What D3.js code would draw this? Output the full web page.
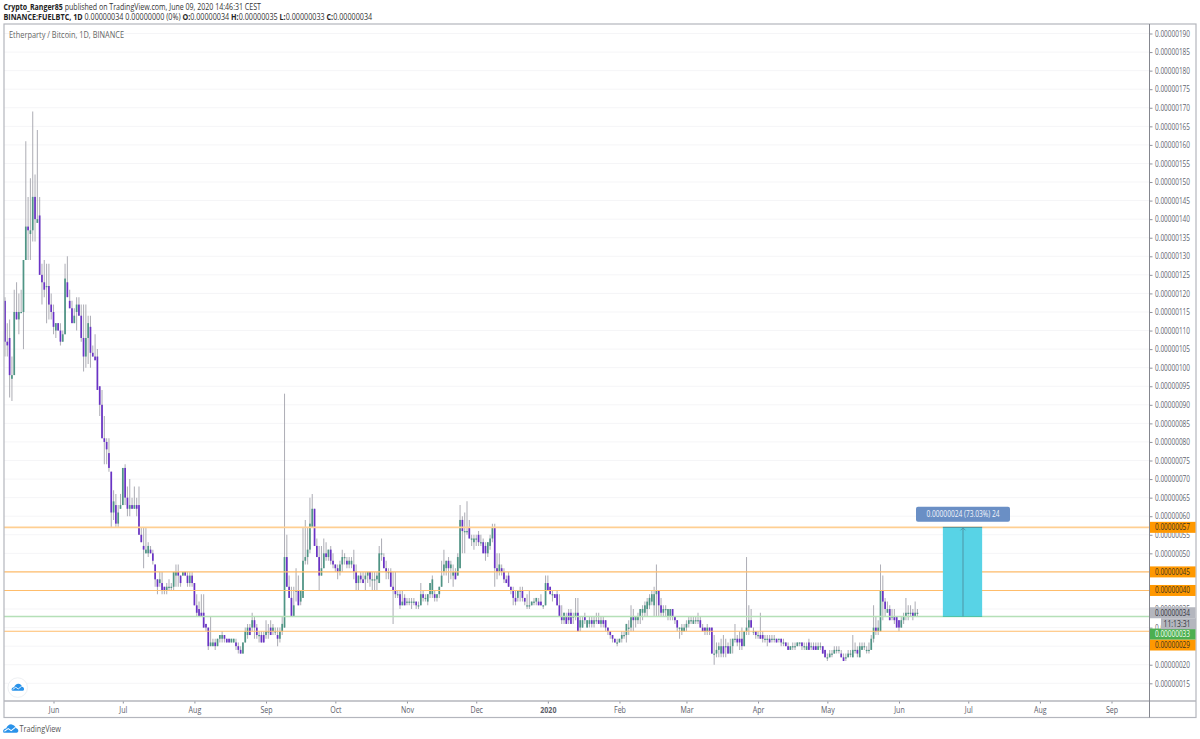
<!DOCTYPE html>
<html>
<head>
<meta charset="utf-8">
<title>Etherparty / Bitcoin, 1D, BINANCE</title>
<script src="https://cdn.jsdelivr.net/npm/d3@7/dist/d3.min.js"></script>
<style>
  html, body { margin: 0; padding: 0; background: #fff; }
  svg { display: block; }
  text { font-family: "Open Sans", "Noto Sans", sans-serif; }
</style>
</head>
<body>
<svg id="chart" width="1200" height="739"></svg>
<script>
// Daily FUELBTC candles in satoshi, one entry per day starting 2019-05-11.
const opens = [
118,107,108,97,98,115,113,115,115,129,
138,136,137,146,139,141,125,123,122,122,
117,115,110,112,110,107,109,123,118,116,
112,115,117,114,108,103,108,111,104,103,
103,95,90,81,80,77,72,61,63,58,
62,63,73,65,62,63,62,63,63,55,
52,50,50,51,50,47,43,42,42,41,
40,41,41,41,44,45,44,44,45,44,
42,44,42,36,35,34,34,31,30,25,
25,26,25,27,27,28,27,27,26,26,
26,25,24,23,26,28,30,30,32,30,
28,28,28,28,29,30,29,29,28,27,
29,30,49,41,38,33,40,40,37,38,
48,49,51,57,62,52,49,44,46,50,
49,51,48,47,46,45,47,49,48,47,
47,47,45,42,44,43,43,44,45,43,
43,43,42,50,49,46,45,45,41,40,
39,39,36,38,37,37,37,37,37,36,
36,39,38,37,39,39,39,38,39,41,
45,46,48,46,44,45,44,46,59,56,
56,57,54,53,54,55,53,53,52,50,
52,54,57,46,45,46,45,43,44,41,
40,38,38,40,40,38,36,36,36,37,
37,37,37,36,36,42,41,39,39,39,
36,33,32,33,34,34,33,33,34,30,
30,33,30,31,32,31,32,32,31,32,
32,30,29,28,27,26,26,27,28,28,
30,30,33,32,32,33,34,34,35,36,
37,36,39,40,36,34,35,33,33,35,
33,32,30,29,29,30,31,32,31,32,
32,32,30,30,29,30,30,23,23,24,
23,25,25,25,23,25,27,27,27,27,
25,29,30,32,29,29,28,28,28,27,
27,27,27,27,27,27,27,26,26,25,
24,25,25,25,26,26,25,24,26,25,
25,25,24,25,25,24,22,22,23,23,
24,24,23,22,22,22,23,22,24,24,
22,24,25,24,24,24,27,30,29,29,
40,37,34,35,33,33,33,32,30,32,
33,34,34,34,33,34];
const highs = [
119,112,113,103,121,123,120,121,129,161,
146,151,169,152,164,146,128,129,128,128,
120,117,112,112,112,110,128,130,121,118,
116,119,119,117,117,117,114,114,106,109,
105,95,94,87,81,81,72,67,66,63,
66,73,74,68,70,65,68,65,68,57,
57,57,53,52,51,47,43,45,45,41,
42,43,42,45,47,47,44,45,45,45,
45,45,42,39,37,39,39,31,30,33,
27,27,27,28,29,28,27,27,27,27,
27,26,25,26,30,31,31,34,33,31,
29,29,29,32,31,32,31,30,30,30,
33,93,55,44,41,41,46,44,40,57,
59,57,65,66,62,54,52,52,54,53,
51,52,50,47,47,48,51,50,49,49,
49,51,47,44,45,45,45,45,45,45,
45,45,52,54,50,48,46,46,45,45,
40,40,40,39,38,38,38,38,37,37,
42,40,39,39,42,44,40,39,41,48,
51,48,49,48,47,46,50,63,60,61,
64,59,55,55,55,56,55,54,53,53,
55,58,58,50,50,47,46,44,45,41,
41,40,40,41,41,38,39,40,37,38,
38,38,39,36,44,44,41,40,39,40,
39,36,34,34,35,35,34,38,38,33,
33,34,32,33,33,33,34,34,33,33,
32,30,29,28,27,27,27,29,29,31,
32,36,35,33,34,35,36,37,38,39,
40,41,47,40,38,36,36,35,35,35,
33,32,30,31,31,32,33,33,33,33,
34,33,31,30,31,30,30,28,26,26,
27,28,27,26,27,27,31,28,29,30,
29,49,36,35,30,29,29,34,29,28,
28,28,28,28,27,27,27,27,26,26,
25,26,26,26,26,26,26,26,27,26,
26,26,26,26,25,24,23,24,24,25,
25,25,24,23,23,24,24,28,26,25,
26,26,26,25,26,28,36,33,32,47,
44,38,37,36,35,35,33,32,33,34,
38,36,36,35,37,35];
const lows = [
103,103,92,91,98,113,109,115,105,129,
129,129,134,134,139,125,117,119,112,113,
113,109,108,110,106,107,109,119,116,112,
112,110,114,107,99,100,101,100,103,102,
94,87,81,74,74,72,57,59,57,57,
62,63,63,60,60,62,62,60,55,53,
46,50,49,50,47,41,39,41,39,39,
39,40,40,40,41,41,41,44,44,41,
41,41,36,33,33,33,30,29,24,25,
25,24,25,26,26,26,26,26,26,26,
24,23,23,23,26,27,28,29,27,27,
26,26,26,27,27,28,28,28,25,26,
28,30,41,38,33,33,37,36,36,38,
47,47,50,57,52,49,40,44,46,48,
48,47,46,45,43,44,45,47,46,46,
46,43,40,40,42,42,40,42,41,40,
40,40,42,48,46,43,43,41,31,38,
38,35,36,36,36,36,35,36,35,35,
36,37,37,36,38,38,37,37,38,41,
44,44,42,43,41,43,44,46,50,50,
55,54,52,51,52,52,52,50,48,49,
51,53,41,43,44,44,42,42,41,39,
36,36,37,37,37,36,35,35,36,36,
36,36,36,35,36,40,39,37,38,36,
33,31,31,31,31,31,31,32,29,29,
30,31,30,30,30,30,31,31,30,30,
29,28,27,26,26,25,26,26,27,26,
28,29,29,30,31,31,32,33,33,35,
36,33,33,33,33,33,33,32,32,32,
31,29,27,28,29,29,30,31,31,31,
31,30,29,28,28,28,23,20,22,22,
22,22,22,23,23,23,26,25,24,24,
25,28,28,30,28,27,27,27,26,26,
25,26,26,26,26,26,25,25,25,24,
24,24,24,25,25,24,24,24,24,24,
24,24,24,24,23,22,21,22,22,23,
23,23,22,21,21,22,22,22,23,22,
22,24,24,23,23,24,26,28,28,29,
32,33,34,32,32,31,30,29,30,31,
32,32,33,32,33,33];
const closes = [
107,106,98,98,115,113,115,115,129,138,
137,137,146,140,140,125,123,121,122,117,
115,111,112,110,107,109,124,119,116,112,
114,117,114,108,103,108,112,104,103,102,
94,90,81,80,78,73,61,64,58,61,
63,73,65,62,63,62,63,62,55,53,
51,51,52,50,48,43,41,43,40,40,
41,41,41,45,45,44,42,45,44,42,
44,42,36,34,33,33,30,30,25,26,
26,25,27,28,28,27,26,26,27,27,
25,24,23,26,29,30,28,32,30,28,
28,26,26,29,29,28,30,29,27,29,
31,49,41,38,33,36,40,36,40,48,
49,51,58,62,52,49,44,46,50,49,
51,48,47,46,45,47,49,49,47,48,
48,45,42,44,43,42,44,45,43,43,
43,44,50,50,46,45,45,41,40,39,
39,36,37,36,37,37,37,37,36,36,
39,38,38,39,42,43,38,39,41,44,
47,48,46,47,45,43,49,59,56,56,
56,54,54,54,54,53,53,50,50,53,
54,57,46,45,47,45,43,42,41,40,
38,37,40,40,38,37,36,36,37,37,
38,36,36,36,42,40,39,39,38,36,
33,32,34,31,32,31,33,34,29,32,
32,32,32,32,31,32,32,31,32,31,
30,29,28,27,26,26,27,28,28,31,
30,33,32,33,33,35,35,36,37,38,
39,39,40,36,34,35,35,35,35,33,
32,30,30,30,30,31,32,32,32,32,
32,30,29,29,30,29,23,23,24,25,
25,23,25,23,25,27,27,26,26,25,
29,30,32,30,29,28,28,27,27,27,
27,26,27,27,26,27,26,26,25,24,
25,25,25,26,26,25,25,25,24,25,
24,24,25,25,23,22,22,23,23,24,
24,24,22,21,22,23,23,24,24,23,
25,25,25,24,24,27,30,29,30,40,
37,35,35,32,33,32,30,30,32,33,
34,34,34,33,34,34];

// Price axis ticks, horizontal levels and their side tags (satoshi).
const priceTicks = [15,20,25,30,35,40,45,50,55,60,65,70,75,80,85,90,95,100,105,110,115,120,125,130,135,140,145,150,155,160,165,170,175,180,185,190];
const orangeLevels = [45, 40, 29];
const heavyOrangeLevel = 57;
const greenLevel = 33;
const lastClose = 34;
const measureLabel = "0.00000024 (73.03%) 24";
const countdown = "11:13:31";

// Month labels on the time axis.
const timeTickDates = ["2019-06-01","2019-07-01","2019-08-01","2019-09-01","2019-10-01","2019-11-01","2019-12-01","2020-01-01","2020-02-01","2020-03-01","2020-04-01","2020-05-01","2020-06-01","2020-07-01","2020-08-01","2020-09-01"];
const timeTickLabels = ["Jun","Jul","Aug","Sep","Oct","Nov","Dec","2020","Feb","Mar","Apr","May","Jun","Jul","Aug","Sep"];

// Price range tool.
const rangeStart = "2020-06-20";
const rangeEnd = "2020-07-07";
const rangeFrom = 33;
const rangeTo = 57;

const firstDay = new Date(Date.UTC(2019, 4, 11));
const lastAxisDay = new Date(Date.UTC(2020, 8, 1));

const paneLeft = 4, paneRight = 1149.5, paneTop = 24, paneBottom = 701, frameBottom = 717.5, frameRight = 1196;

const x = d3.scaleUtc().domain([firstDay, lastAxisDay]).range([5, 1111.5]);
const y = d3.scaleLinear().domain([15, 190]).range([683.3, 33.5]);

const fmt = v => (v / 1e8).toFixed(8);
const svg = d3.select("#chart");

// Narrows every text of a selection to a share of its natural width.
function narrow(sel, share) {
  sel.each(function () {
    const len = this.getComputedTextLength();
    d3.select(this).attr("textLength", len * share).attr("lengthAdjust", "spacingAndGlyphs");
  });
  return sel;
}

// Squeezes a multi-run line horizontally so that it spans a given width.
function fitLine(textSel, left, width) {
  const len = textSel.node().getComputedTextLength();
  textSel.attr("transform", `translate(${left},0) scale(${width / len},1)`);
}

// Header lines
const header = svg.append("g").attr("font-size", 8.7).attr("fill", "#333");
const h1 = header.append("text").attr("x", 0).attr("y", 10);
h1.append("tspan").attr("font-weight", 700).attr("fill", "#222").text("Crypto_Ranger85");
h1.append("tspan").text(" published on TradingView.com, June 09, 2020 14:46:31 CEST");
const h2 = header.append("text").attr("x", 0).attr("y", 20);
h2.append("tspan").attr("font-weight", 700).attr("fill", "#222").text("BINANCE:FUELBTC, 1D");
h2.append("tspan").text("  0.00000034 0.00000000 (0%) ");
[["O:", "0.00000034"], ["H:", "0.00000035"], ["L:", "0.00000033"], ["C:", "0.00000034"]].forEach(([k, v]) => {
  h2.append("tspan").attr("font-weight", 700).attr("fill", "#222").text(k);
  h2.append("tspan").text(v + " ");
});
fitLine(h1, 3.5, 257.5);
fitLine(h2, 3.5, 368.5);

// Horizontal grid
svg.append("g").selectAll("line").data(priceTicks).join("line")
  .attr("x1", paneLeft).attr("x2", paneRight)
  .attr("y1", d => y(d)).attr("y2", d => y(d))
  .attr("stroke", "#f5f5f7").attr("stroke-width", 1);

svg.append("text").attr("x", 9).attr("y", 38).attr("font-size", 8.8).attr("fill", "#666")
  .attr("textLength", 115).attr("lengthAdjust", "spacingAndGlyphs")
  .text("Etherparty / Bitcoin, 1D, BINANCE");

// Candles
const days = d3.range(opens.length).map(i => d3.utcDay.offset(firstDay, i));
const candles = svg.append("g");
candles.selectAll("line").data(days).join("line")
  .attr("x1", d => x(d)).attr("x2", d => x(d))
  .attr("y1", (d, i) => y(highs[i])).attr("y2", (d, i) => y(lows[i]))
  .attr("stroke", "#a3a3ac").attr("stroke-width", 1.05).attr("opacity", 0.85);
candles.selectAll("rect").data(days).join("rect")
  .attr("x", d => x(d) - 0.85).attr("width", 1.7)
  .attr("y", (d, i) => y(Math.max(opens[i], closes[i])))
  .attr("height", (d, i) => Math.max(1.2, Math.abs(y(opens[i]) - y(closes[i]))))
  .attr("fill", (d, i) => closes[i] >= opens[i] ? "#4f9585" : "#6a33c6");

// Horizontal levels
svg.append("g").selectAll("line").data(orangeLevels).join("line")
  .attr("x1", paneLeft).attr("x2", paneRight)
  .attr("y1", d => y(d)).attr("y2", d => y(d))
  .attr("stroke", "#ffbd6b").attr("stroke-width", 1.1);
svg.append("line").attr("x1", paneLeft).attr("x2", paneRight)
  .attr("y1", y(heavyOrangeLevel)).attr("y2", y(heavyOrangeLevel))
  .attr("stroke", "#ffcf92").attr("stroke-width", 1.8);
svg.append("line").attr("x1", paneLeft).attr("x2", paneRight)
  .attr("y1", y(greenLevel)).attr("y2", y(greenLevel))
  .attr("stroke", "#b5e0b7").attr("stroke-width", 1.6);

// Price range tool
const rx0 = x(new Date(rangeStart)), rx1 = x(new Date(rangeEnd)), rmid = (rx0 + rx1) / 2 + 0.5;
svg.append("rect").attr("x", rx0).attr("y", y(rangeTo))
  .attr("width", rx1 - rx0).attr("height", y(rangeFrom) - y(rangeTo)).attr("fill", "#58d3e6");
svg.append("line").attr("x1", rx0).attr("x2", rx1).attr("y1", y(rangeTo)).attr("y2", y(rangeTo))
  .attr("stroke", "#4a8f9e").attr("stroke-width", 1);
svg.append("line").attr("x1", rx0).attr("x2", rx1).attr("y1", y(rangeFrom)).attr("y2", y(rangeFrom))
  .attr("stroke", "#4fc3a8").attr("stroke-width", 1);
svg.append("line").attr("x1", rmid).attr("x2", rmid).attr("y1", y(rangeFrom)).attr("y2", y(rangeTo))
  .attr("stroke", "#4d95a5").attr("stroke-width", 1);
svg.append("path")
  .attr("d", `M${rmid - 2.5},${y(rangeTo) + 3}L${rmid},${y(rangeTo) + 0.5}L${rmid + 2.5},${y(rangeTo) + 3}`)
  .attr("fill", "none").attr("stroke", "#4a8f9e").attr("stroke-width", 0.8);
const tagY = y(rangeTo) - 20.5;
svg.append("rect").attr("x", rmid - 47).attr("y", tagY).attr("width", 94).attr("height", 15)
  .attr("rx", 2).attr("fill", "#6a8fc5");
svg.append("text").attr("x", rmid).attr("y", tagY + 10.5).attr("text-anchor", "middle")
  .attr("font-size", 8.6).attr("fill", "#f2f5fb")
  .attr("textLength", 73).attr("lengthAdjust", "spacingAndGlyphs").text(measureLabel);

// Price axis; the ticks at 30 and 35 sit behind the side tags drawn later
const yAxis = d3.axisRight(y).tickValues(priceTicks).tickFormat(fmt).tickSize(3).tickPadding(2.5);
const yG = svg.append("g").attr("transform", `translate(${paneRight},0)`).call(yAxis);
yG.select(".domain").remove();
yG.selectAll("line").attr("stroke", "#8f929c");
yG.selectAll("text").attr("font-size", 8.4).attr("fill", "#62656f").attr("font-family", '"Open Sans", sans-serif')
  .attr("textLength", 35).attr("lengthAdjust", "spacingAndGlyphs");

// Time axis
const xAxis = d3.axisBottom(x).tickValues(timeTickDates.map(d => new Date(d)))
  .tickFormat((d, i) => timeTickLabels[i]).tickSize(2.5).tickPadding(3);
const xG = svg.append("g").attr("transform", `translate(0,${paneBottom})`).call(xAxis);
xG.select(".domain").remove();
xG.selectAll("line").attr("stroke", "#8f929c");
narrow(xG.selectAll("text").attr("font-size", 8.6).attr("fill", "#5d606b")
  .attr("font-family", '"Open Sans", sans-serif')
  .attr("font-weight", (d, i) => timeTickLabels[i] === "2020" ? 700 : 400), 0.82);

// Frame
const frame = svg.append("g").attr("fill", "none").attr("stroke", "#b4b6bd");
frame.append("rect").attr("x", paneLeft).attr("y", paneTop)
  .attr("width", frameRight - paneLeft).attr("height", frameBottom - paneTop).attr("stroke-width", 1.2);
frame.append("line").attr("x1", paneLeft).attr("x2", frameRight).attr("y1", paneBottom).attr("y2", paneBottom).attr("stroke-width", 1.6);
frame.append("line").attr("x1", paneRight).attr("x2", paneRight).attr("y1", paneTop).attr("y2", frameBottom).attr("stroke", "#85878f").attr("stroke-width", 1);

// Side tags
const tags = [
  { v: heavyOrangeLevel, at: y(heavyOrangeLevel), bg: "#ff9800", fg: "#3a3320" },
  { v: orangeLevels[0], at: y(orangeLevels[0]), bg: "#ff9800", fg: "#3a3320" },
  { v: orangeLevels[1], at: y(orangeLevels[1]), bg: "#ff9800", fg: "#3a3320" },
  { v: lastClose, at: y(lastClose), bg: "#b4b6be", fg: "#33353c" },
  { v: orangeLevels[2], at: y(orangeLevels[2]) + 13.7, bg: "#ff9800", fg: "#3a3320" },
  { v: greenLevel, at: y(greenLevel) + 17.6, bg: "#4caf50", fg: "#f4fff4" }
];
const tagG = svg.append("g");
tags.forEach(t => {
  tagG.append("rect").attr("x", paneRight + 0.5).attr("y", t.at - 5.5).attr("width", 45.5).attr("height", 11).attr("fill", t.bg);
  tagG.append("text").attr("x", paneRight + 5.5).attr("y", t.at + 3).attr("font-size", 8.4).attr("fill", t.fg)
    .attr("textLength", 35).attr("lengthAdjust", "spacingAndGlyphs").text(fmt(t.v));
});
tagG.append("rect").attr("x", 1161).attr("y", y(lastClose) + 5.5).attr("width", 35).attr("height", 11).attr("fill", "#b4b6be");
tagG.append("text").attr("x", 1177).attr("y", y(lastClose) + 14).attr("text-anchor", "middle")
  .attr("font-size", 8.2).attr("fill", "#33353c")
  .attr("textLength", 27).attr("lengthAdjust", "spacingAndGlyphs").text(countdown);

// Cloud logo, drawn at a given spot and scale
const cloudPath = "M0.3,8.6C-0.5,6.6 1.2,4.6 3.4,4.8C4.2,2 6.6,0.2 9,0.4C11.4,0.6 13,2.2 13.4,4.2C15.2,4.4 16.6,6.2 16,8C15.8,8.8 15.2,9.2 14.4,9.2L1.6,9.2C1,9.2 0.5,9 0.3,8.6Z";
function drawLogo(tx, ty, s) {
  const g = svg.append("g").attr("transform", `translate(${tx},${ty}) scale(${s})`);
  g.append("path").attr("d", cloudPath).attr("fill", "#2a93ea");
  g.append("path").attr("d", "M1.5,7.6L5.5,4.8L8.6,7L13,3.6").attr("fill", "none").attr("stroke", "#fff").attr("stroke-width", 1.1);
}
svg.append("circle").attr("cx", 17.7).attr("cy", 687.6).attr("r", 9.8).attr("fill", "#fff").attr("stroke", "#eef0f3").attr("stroke-width", 1);
drawLogo(11.5, 683.5, 0.78);
drawLogo(3, 724, 0.95);
svg.append("text").attr("x", 19.5).attr("y", 731.5).attr("font-size", 9).attr("fill", "#555")
  .attr("textLength", 41.5).attr("lengthAdjust", "spacingAndGlyphs").text("TradingView");
</script>
</body>
</html>
